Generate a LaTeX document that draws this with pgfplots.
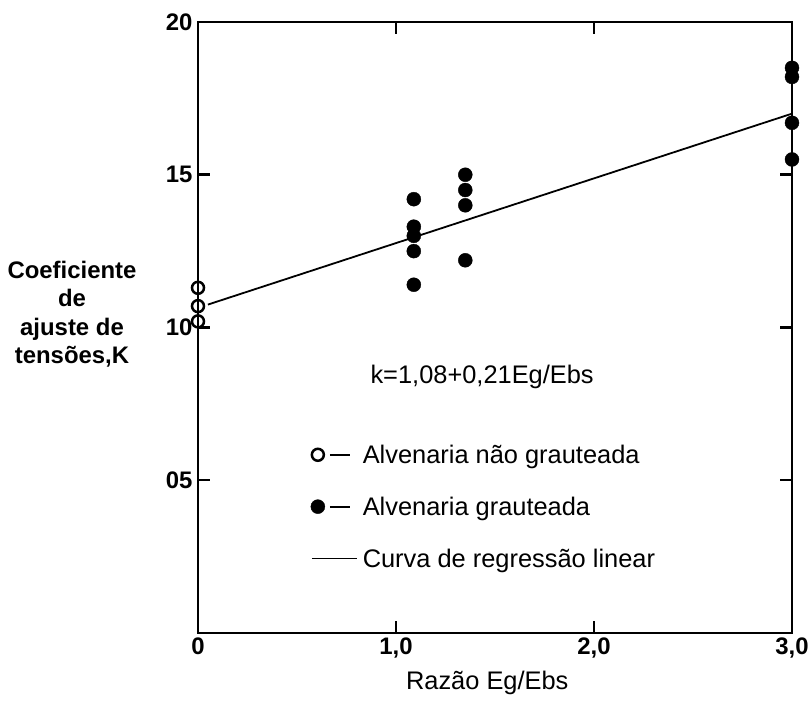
\documentclass[border=0pt]{standalone}
\usepackage{fontspec}
\setmainfont{Liberation Sans}
\usepackage{pgfplots}
\pgfplotsset{compat=1.18}
\pgfplotsset{
  markleg/.style={legend image code/.code={\draw[##1] plot coordinates {(6bp,0bp)};
    \draw[black, line width=2bp, solid] (18bp,0bp)--(38bp,0bp);
    \path (0bp,0bp) (50bp,0bp);}},
  lineleg/.style={legend image code/.code={\draw[##1] (0bp,0bp)--(45bp,0bp);\path (50bp,0bp);}},
}
\begin{document}
\begin{tikzpicture}
\useasboundingbox (-198bp,-68bp) rectangle (612bp,633bp);
\begin{axis}[
  at={(0,0)}, anchor=south west,
  scale only axis, width=594bp, height=611bp,
  xmin=0, xmax=3, ymin=0, ymax=20,
  clip=false,
  axis line style={line width=2.5bp},
  tick style={line width=2.5bp, black},
  major tick length=12bp,
  tick align=inside, tick pos=both,
  xtick={0,1,2,3}, xticklabels={0,{1,0},{2,0},{3,0}},
  ytick={5,10,15,20}, yticklabels={05,10,15,20},
  /pgf/number format/assume math mode=true,
  ticklabel style={font=\bfseries\fontsize{24}{28}\selectfont},
  xticklabel style={yshift=-1bp},
  yticklabel style={xshift=-2bp},
  xlabel={Razão Eg/Ebs},
  xlabel style={font=\fontsize{25.5}{30}\selectfont, at={(rel axis cs:0.487,0)}, anchor=center, yshift=-50bp},
  legend style={draw=none, fill=none, at={(rel axis cs:0.19,0.308)}, anchor=north west,
    inner sep=0pt, outer sep=0pt,
    font=\fontsize{25.5}{30}\selectfont, row sep=32bp,
    nodes={inner sep=0pt}, cells={anchor=west}},
  legend cell align=left,
]
\addplot[only marks, mark=o, mark size=6bp, mark options={line width=2.5bp}, black, markleg]
  coordinates {(0,11.3) (0,10.7) (0,10.2)};
\addlegendentry{Alvenaria não grauteada}
\addplot[only marks, mark=*, mark size=7bp, black, markleg]
  coordinates {(1.09,14.2) (1.09,13.3) (1.09,13.0) (1.09,12.5) (1.09,11.4)
               (1.35,15.0) (1.35,14.5) (1.35,14.0) (1.35,12.2)
               (3,18.5) (3,18.2) (3,16.7) (3,15.5)};
\addlegendentry{Alvenaria grauteada}
\addplot[black, line width=1.8bp, lineleg]
  coordinates {(0.05,10.75) (3,17.0)};
\addlegendentry{Curva de regressão linear}
\node[font=\fontsize{25.5}{30}\selectfont] at (axis cs:1.435,8.38) {k=1,08+0,21Eg/Ebs};
\node[font=\bfseries\fontsize{24}{28.5}\selectfont, align=center] at (rel axis cs:0,0.522) [xshift=-126bp]
  {Coeficiente\\de\\ajuste de\\tensões,K};
\end{axis}
\end{tikzpicture}
\end{document}
